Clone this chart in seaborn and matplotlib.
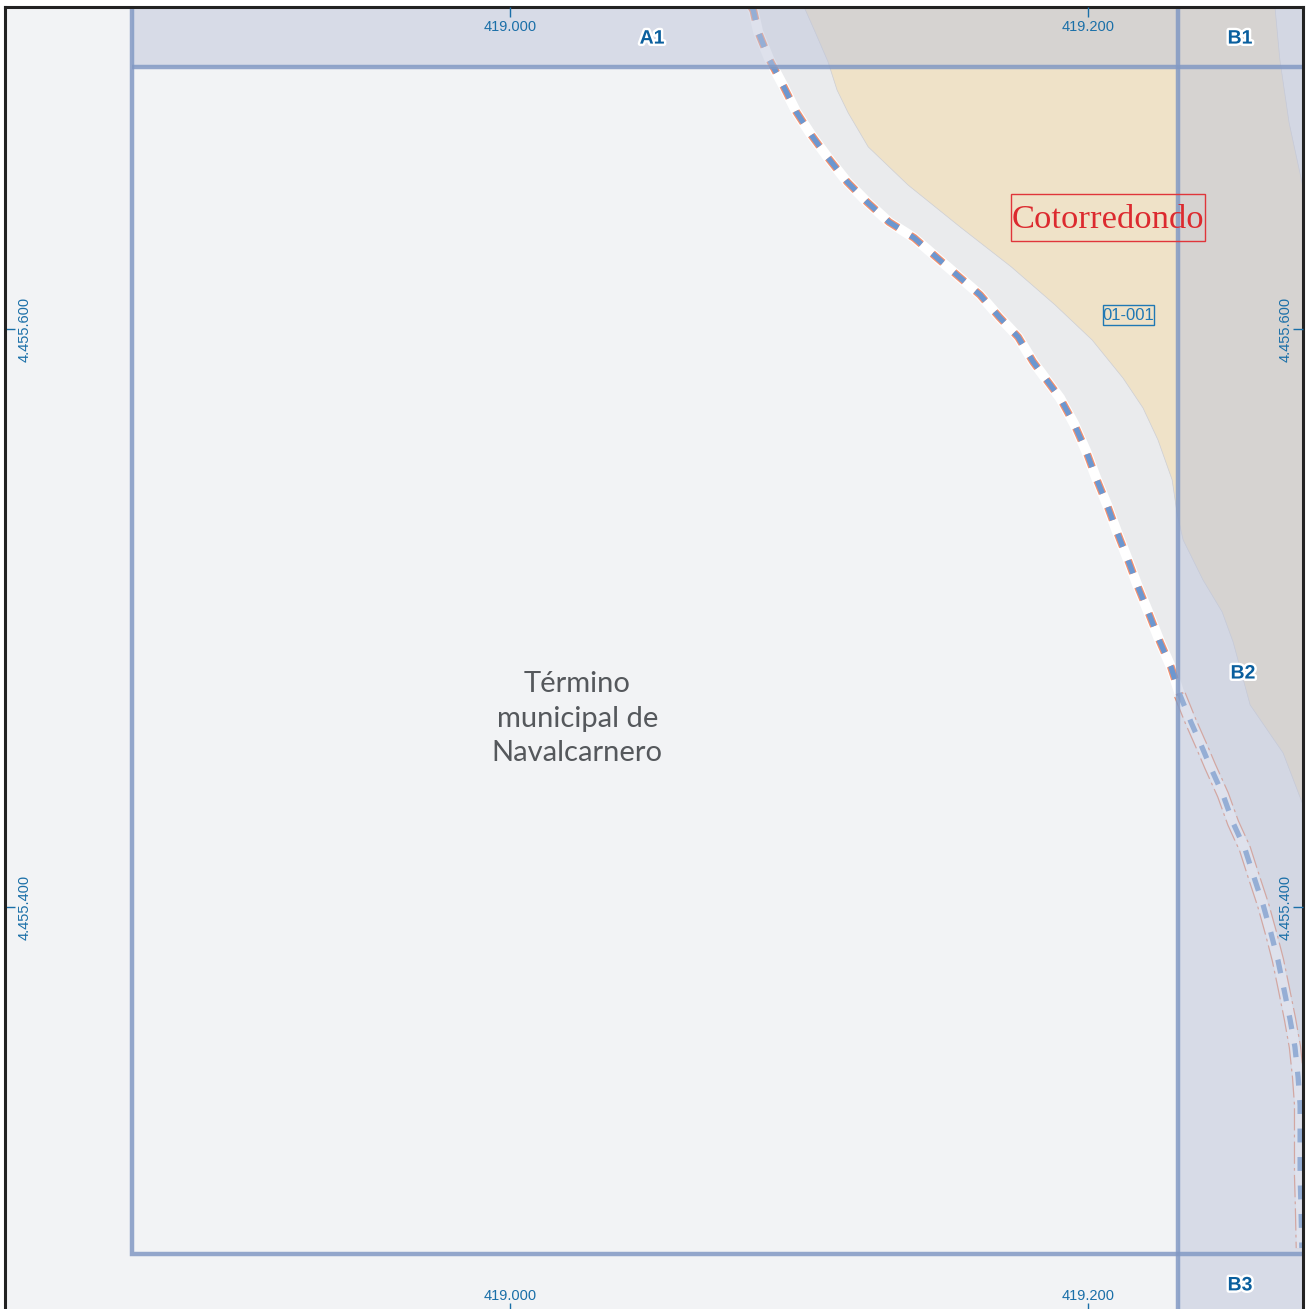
import pandas as pd
import seaborn as sns
import matplotlib.pyplot as plt
import matplotlib.patheffects as pe
from matplotlib.patches import Rectangle

# metres relative to easting 419.000 / northing 4.455.600
x_min, x_max = -174.9, 274.4
y_min, y_max = -339.1, 111.4

road_x = [83.4, 84.1, 85.8, 89.6, 94.5, 99.0, 104.2, 110.0, 116.6, 123.5, 131.1, 139.8, 147.4, 155.4, 162.6,
          169.2, 175.8, 181.0, 185.9, 190.3, 195.2, 199.3, 202.8, 206.6, 210.0, 213.8, 217.3, 221.1, 224.9, 228.7,
          231.8, 235.6, 239.4, 242.2, 246.7, 250.2, 254.3, 257.4, 260.6, 263.3, 265.7, 267.8, 269.9, 271.6,
          272.7, 273.4, 273.4, 273.4, 273.7, 274.0]
road_y = [111.4, 110.4, 102.8, 93.4, 84.1, 75.1, 67.1, 59.2, 50.9, 43.9, 37.0, 31.5, 24.9, 18.0, 11.8,
          4.2, -2.8, -11.4, -18.0, -23.9, -32.9, -42.2, -51.6, -60.9, -70.2, -79.9, -89.3, -98.6, -108.3, -117.0,
          -126.6, -136.0, -144.6, -151.2, -161.2, -170.9, -179.9, -189.6, -199.3, -209.0, -218.3, -228.4, -238.8, -248.4,
          -258.8, -268.5, -283.0, -293.1, -303.5, -318.0]
road_split = 30  # salmon edge changes look from here on

tan_edge_x = [101.7, 105.5, 110.0, 113.1, 117.0, 123.9, 137.7, 155.7, 173.4, 188.6, 201.4, 212.1, 219.0, 224.2,
              229.1, 230.8, 232.9, 239.8, 246.4, 250.2, 256.1, 267.5, 274.4]
tan_edge_y = [111.4, 102.8, 92.4, 82.7, 74.7, 63.0, 49.8, 35.3, 21.5, 8.3, -3.8, -17.0, -27.3, -38.4,
              -52.2, -63.7, -73.0, -86.9, -97.9, -108.3, -130.1, -146.7, -164.7]
tan_top_x = [274.4, 269.6, 266.4, 264.7]
tan_top_y = [49.1, 71.3, 93.1, 111.4]

sheet_left, sheet_right = -130.8, 231.1
sheet_top, sheet_bottom = 90.7, -320.1

x_ticks = [0, 200]
x_labels = ["419.000", "419.200"]
y_ticks = [0, -200]
y_labels = ["4.455.600", "4.455.400"]

grid_names = ["A1", "B1", "B2", "B3"]
grid_x = [49.1, 252.6, 253.6, 252.6]
grid_y = [100.3, 100.3, -119.4, -331.1]

plt.rcParams['lines.scale_dashes'] = False
sns.set_theme(style="white")
plt.rcParams['font.family'] = ['Liberation Sans', 'DejaVu Sans']

fig = plt.figure(figsize=(13.10, 13.09), dpi=100, facecolor="white")
ax = fig.add_axes([5 / 1310, 0, 1298 / 1310, 1302 / 1309])
ax.set_facecolor("#f2f3f5")

# ground areas
ax.fill(road_x + [x_max, x_max], road_y + [y_min, y_max], color="#eaebed", lw=0, zorder=1)
ax.fill(tan_edge_x + tan_top_x, tan_edge_y + tan_top_y, color="#efe2c8", lw=0, zorder=2)
edge_style = dict(color="#cdced3", lw=0.5, estimator=None, sort=False, ax=ax, zorder=3)
sns.lineplot(x=tan_edge_x, y=tan_edge_y, **edge_style)
sns.lineplot(x=tan_top_x, y=tan_top_y, **edge_style)

# road
road = pd.DataFrame({"x": road_x, "y": road_y})
upper = road.iloc[:road_split + 1]
lower = road.iloc[road_split:]
dash = (0, (10, 10.5))
line_style = dict(x="x", y="y", estimator=None, sort=False, ax=ax)
sns.lineplot(data=lower, color="#e88a6a", lw=9.0, linestyle=(0, (16, 3, 2, 3)), dash_capstyle="butt", zorder=4, **line_style)
sns.lineplot(data=road, color="white", lw=7.2, solid_capstyle="butt", zorder=5, **line_style)
sns.lineplot(data=upper, color="#f4916f", lw=5.6, linestyle=dash, dash_capstyle="butt", zorder=6, **line_style)
sns.lineplot(data=road, color="#6c97d0", lw=3.8, linestyle=dash, dash_capstyle="butt", zorder=7, **line_style)

ax.text(23.2, -134.9, "Término\nmunicipal de\nNavalcarnero", ha="center", va="center", fontsize=21,
        family="Lato", color="#55585c", linespacing=1.41, zorder=8)
ax.text(214.0, 4.8, "01-001", ha="center", va="center", fontsize=12, color="#1f78b4", zorder=8)
ax.add_patch(Rectangle((205.2, 1.4), 17.6, 6.9, fc="none", ec="#1f78b4", lw=1.0, zorder=8))

# tint outside the sheet
ax.fill([sheet_left, x_max, x_max, sheet_right, sheet_right, sheet_left],
        [y_max, y_max, y_min, y_min, sheet_top, sheet_top],
        color="#bec5db", alpha=0.5, lw=0, zorder=9)

sheet_style = dict(color="#8299c4", lw=3.2, alpha=0.85, estimator=None, sort=False, ax=ax, zorder=10,
                   solid_capstyle="butt")
sns.lineplot(x=[sheet_left, sheet_left, x_max], y=[y_max, sheet_bottom, sheet_bottom], solid_joinstyle="miter", **sheet_style)
sns.lineplot(x=[sheet_left, x_max], y=[sheet_top, sheet_top], **sheet_style)
sns.lineplot(x=[sheet_right, sheet_right], y=[y_max, y_min], **sheet_style)

# the place name stays strong over the tint and the sheet line
ax.text(206.9, 37.9, "Cotorredondo", ha="center", va="center", fontsize=24.8, family="Liberation Serif",
        color="#dc2a2f", zorder=11)
ax.add_patch(Rectangle((173.4, 30.4), 67.1, 16.3, fc="none", ec="#e0353a", lw=1.0, zorder=11))

for name, gx, gy in zip(grid_names, grid_x, grid_y):
    ax.text(gx, gy, name, ha="center", va="center", fontsize=14, fontweight="bold", color="#0a5f9e", zorder=11,
            path_effects=[pe.withStroke(linewidth=3.5, foreground="white")])

ax.set_xlim(x_min, x_max)
ax.set_ylim(y_min, y_max)
ax.set_xlabel("")
ax.set_ylabel("")

# coordinates sit inside the frame
tick_color = "#1a6fa8"
tick_text = dict(direction="in", width=1, color=tick_color, labelcolor=tick_color, labelsize=10.5)
ax.set_xticks(x_ticks, x_labels)
ax.set_yticks(y_ticks, y_labels)
ax.tick_params(axis="x", length=4.5, pad=-14.5, bottom=True, **tick_text)
ax.tick_params(axis="y", length=7, pad=-19, left=True, **tick_text)
for lab in ax.get_yticklabels():
    lab.set_rotation(90)
    lab.set_va("center")

top = ax.secondary_xaxis("top")
top.set_xticks(x_ticks, x_labels)
top.tick_params(length=7, pad=-19.5, **tick_text)
top.spines["top"].set_visible(False)
top.set_zorder(20)

right = ax.secondary_yaxis("right")
right.set_yticks(y_ticks, y_labels)
right.tick_params(length=7, pad=-17.5, **tick_text)
right.spines["right"].set_visible(False)
right.set_zorder(20)
for lab in right.get_yticklabels():
    lab.set_rotation(90)
    lab.set_va("center")

for side in ["left", "right", "top"]:
    ax.spines[side].set_color("#222222")
    ax.spines[side].set_linewidth(2.2)
    ax.spines[side].set_zorder(12)
ax.spines["bottom"].set_visible(False)

fig.savefig("out.png", dpi=100)
